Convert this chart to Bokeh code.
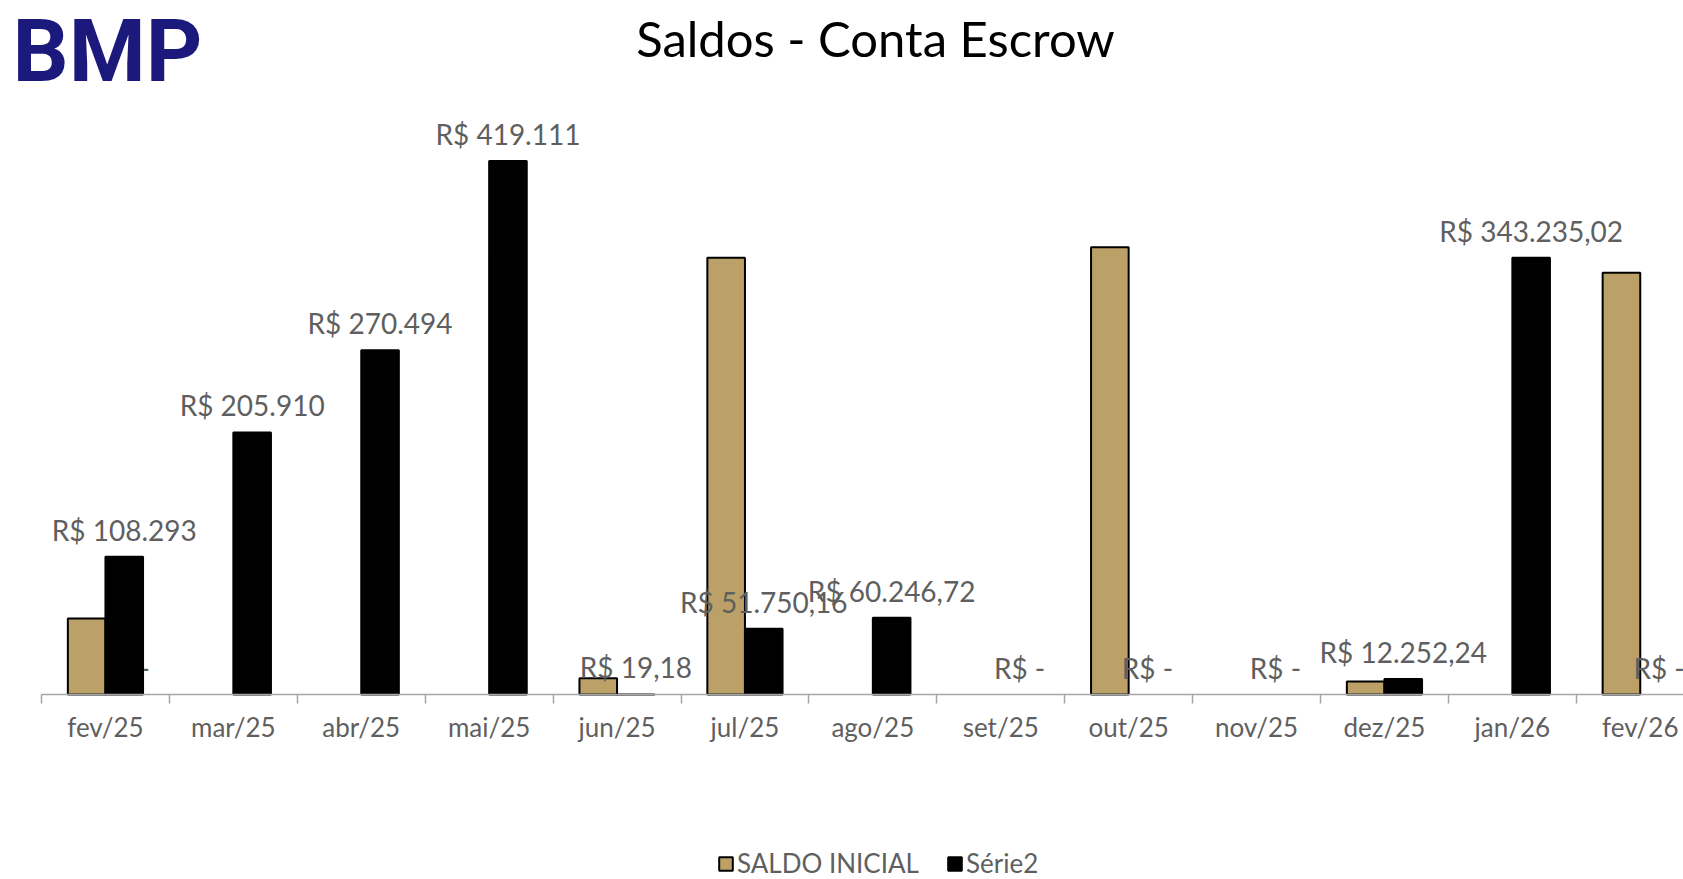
from bokeh.plotting import figure
from bokeh.models import Range1d, FixedTicker, Label, Legend, LegendItem, ColumnDataSource
from bokeh.embed import file_html
from bokeh.resources import INLINE
from bokeh.core.properties import value

# ---------------- data ----------------
categories = ["fev/25", "mar/25", "abr/25", "mai/25", "jun/25", "jul/25", "ago/25",
              "set/25", "out/25", "nov/25", "dez/25", "jan/26", "fev/26"]
saldo_inicial = [59700, 0, 0, 0, 12800, 343235, 0, 0, 351500, 0, 10300, 0, 331300]
serie2 = [108293, 205910, 270494, 419111, 19.18, 51750.16, 60246.72, 0, 0, 0,
          12252.24, 343235.02, 0]
serie2_labels = ["R$ 108.293", "R$ 205.910", "R$ 270.494", "R$ 419.111", "R$ 19,18",
                 "R$ 51.750,16", "R$ 60.246,72", "R$ -", "R$ -", "R$ -",
                 "R$ 12.252,24", "R$ 343.235,02", "R$ -"]
hidden_label_idx = [0]
hidden_label_text = ["R$ -"]

title_text = "Saldos - Conta Escrow"
logo_text = "BMP"
series_names = ["SALDO INICIAL", "Série2"]

# ---------------- styling ----------------
GOLD = "#bba067"
FONT = "Lato"
LABEL_GRAY = "#5f5f5f"
BAR_W = 0.294
W, H = 1683, 879
CAT_PX = 127.9          # pixels per category
VAL_PER_PX = 785.7      # value units per pixel
AXIS_LEFT = 41          # page x of first category boundary
AXIS_Y = 694            # page y of the value zero line

n = len(categories)
centers = [i + 0.5 for i in range(n)]
gold_x = [c - BAR_W / 2 for c in centers]
black_x = [c + BAR_W / 2 for c in centers]

src = ColumnDataSource(dict(
    gx=gold_x, bx=black_x, gold=saldo_inicial, black=serie2, lab=serie2_labels,
    ga=[0 if v == 0 else 1 for v in saldo_inicial],
    ba=[0 if v == 0 else 1 for v in serie2]))
hidden_src = ColumnDataSource(dict(x=[black_x[i] for i in hidden_label_idx],
                                   y=[0 for _ in hidden_label_idx],
                                   t=hidden_label_text))

x_range = Range1d(-AXIS_LEFT / CAT_PX, (W - AXIS_LEFT) / CAT_PX)
y_range = Range1d(-(H - AXIS_Y) * VAL_PER_PX, AXIS_Y * VAL_PER_PX)

p = figure(width=W, height=H, output_backend="svg", toolbar_location=None,
           x_range=x_range, y_range=y_range, min_border=0,
           min_border_left=0, min_border_right=0, min_border_top=0,
           min_border_bottom=0)
p.outline_line_color = None
p.xgrid.visible = False
p.ygrid.visible = False
p.yaxis.visible = False
p.background_fill_color = "white"
p.border_fill_color = "white"

# hidden label sits beneath the bars
p.text(x="x", y="y", text="t", source=hidden_src, text_font=value(FONT),
       text_font_size="28px", text_color=LABEL_GRAY, text_align="center",
       text_baseline="middle", y_offset=-27)

r_gold = p.vbar(x="gx", top="gold", width=BAR_W, source=src, fill_color=GOLD,
                fill_alpha="ga", line_alpha="ga", line_color="black", line_width=2)
r_black = p.vbar(x="bx", top="black", width=BAR_W, source=src, fill_color="black",
                 fill_alpha="ba", line_alpha="ba", line_color="black", line_width=2)

p.text(x="bx", y="black", text="lab", source=src, text_font=value(FONT),
       text_font_size="28px", text_color=LABEL_GRAY, text_align="center",
       text_baseline="middle", y_offset=-27)

ax = p.xaxis[0]
ax.fixed_location = 0
ax.bounds = (0, n)
ax.ticker = FixedTicker(ticks=centers, minor_ticks=list(range(n + 1)))
ax.major_label_overrides = {c: cat for c, cat in zip(centers, categories)}
ax.major_tick_line_color = None
ax.major_tick_out = 0
ax.major_tick_in = 0
ax.minor_tick_line_color = "#a6a6a6"
ax.minor_tick_line_width = 1.5
ax.minor_tick_out = 9
ax.minor_tick_in = 0
ax.axis_line_color = "#a6a6a6"
ax.axis_line_width = 1.5
ax.major_label_text_font = FONT
ax.major_label_text_font_size = "26px"
ax.major_label_text_color = LABEL_GRAY
ax.major_label_standoff = 7

p.add_layout(Label(x=875, y=H - 37, x_units="screen", y_units="screen", text=title_text,
                   text_font=FONT, text_font_size="49px", text_color="black",
                   text_align="center", text_baseline="middle"))
p.add_layout(Label(x=12, y=H - 50, x_units="screen", y_units="screen", text=logo_text,
                   text_font="Roboto", text_font_style="bold", text_font_size="88px",
                   text_color="#1b1a7c", text_align="left",
                   text_baseline="alphabetic"))

legend = Legend(items=[LegendItem(label=series_names[0], renderers=[r_gold]),
                       LegendItem(label=series_names[1], renderers=[r_black])],
                location=(717, 0), orientation="horizontal",
                label_text_font=FONT, label_text_font_size="26px",
                label_text_color=LABEL_GRAY, glyph_width=17, glyph_height=17,
                label_standoff=3, spacing=27, padding=0, margin=0,
                border_line_color=None, background_fill_alpha=0)
p.add_layout(legend, "center")

open("out.html", "w").write(file_html(p, INLINE))
